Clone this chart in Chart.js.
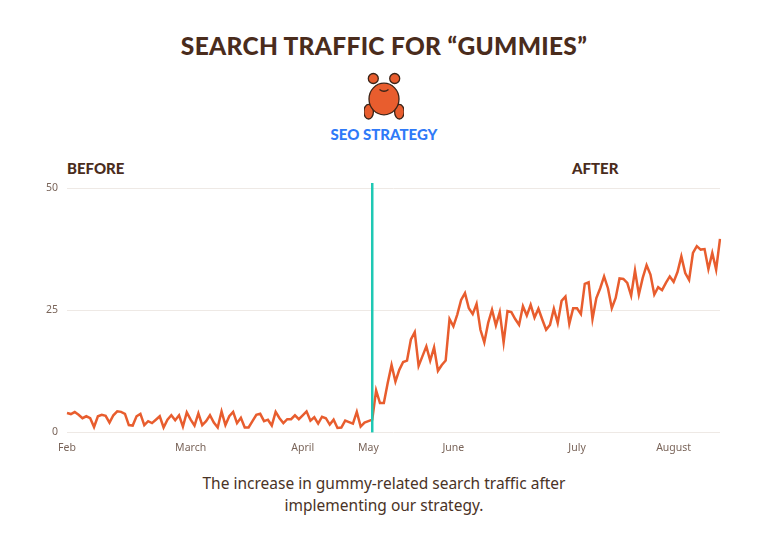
<!DOCTYPE html>
<html>
<head>
<meta charset="utf-8">
<script src="https://cdn.jsdelivr.net/npm/chart.js@4"></script>
<style>
  body { margin: 0; background: #fff; }
  #page { position: relative; width: 768px; height: 542px; overflow: hidden; font-family: "Lato", sans-serif; }
  .title { position: absolute; left: 0; width: 768px; top: 31px; text-align: center; font-size: 24.5px; font-weight: 900; color: #4a2c1c; letter-spacing: 0.3px; }
  .sub { position: absolute; left: 0; width: 768px; top: 125px; text-align: center; font-size: 15px; font-weight: 900; color: #2f7af8; }
  .tag { position: absolute; top: 159px; font-size: 15px; font-weight: 900; color: #4a2c1c; }
  #bear { position: absolute; left: 364px; top: 68px; }
  .caption { position: absolute; left: 0; width: 768px; top: 472px; text-align: center; font-family: "Noto Sans", sans-serif; font-size: 15.5px; line-height: 22px; color: #4a3326; }
  #wrap { position: absolute; left: 0; top: 150px; width: 768px; height: 320px; }
</style>
</head>
<body>
<div id="page">
  <div class="title">SEARCH TRAFFIC FOR “GUMMIES”</div>
  <svg id="bear" width="40" height="54" viewBox="0 0 40 54">
    <g fill="#e85d2e" stroke="#3b2418" stroke-width="1.3">
      <circle cx="9.3" cy="10.5" r="5"/>
      <circle cx="30.7" cy="10.5" r="5"/>
      <ellipse cx="4.6" cy="43.7" rx="4.8" ry="7.3"/>
      <ellipse cx="35.4" cy="43.7" rx="4.8" ry="7.3"/>
      <ellipse cx="20" cy="31" rx="15" ry="15.8"/>
    </g>
    <path d="M15.5 21.5 Q20 25 24.5 21.5" fill="none" stroke="#3b2418" stroke-width="1.3"/>
  </svg>
  <div class="sub">SEO STRATEGY</div>
  <div class="tag" style="left:67px">BEFORE</div>
  <div class="tag" style="left:572px">AFTER</div>
  <div id="wrap"><canvas id="chart-traffic"></canvas></div>
  <div class="caption">The increase in gummy-related search traffic after<br>implementing our strategy.</div>
</div>
<script>
// daily search traffic
var beforeValues = [
  3.96, 3.75, 4.16, 3.6, 2.9, 3.3, 2.9, 1.1, 3.3, 3.6,
  3.4, 2.0, 3.5, 4.3, 4.2, 3.8, 1.5, 1.4, 3.3, 3.8,
  1.5, 2.3, 1.9, 2.6, 3.3, 1.0, 2.6, 3.5, 2.5, 3.5,
  1.2, 4.1, 2.6, 1.4, 3.9, 1.5, 2.3, 3.5, 2.0, 1.0,
  4.3, 1.5, 3.3, 4.2, 1.9, 3.0, 1.0, 1.0, 2.3, 3.6,
  3.8, 2.3, 2.6, 1.4, 4.2, 2.9, 1.9, 2.7, 2.7, 3.5,
  2.7, 3.5, 4.3, 2.4, 3.1, 1.8, 3.2, 2.9, 1.6, 2.6,
  0.9, 1.0, 2.4, 2.1, 1.8, 4.2, 1.2, 2.0, 2.3, 2.6
];
var afterValues = [
  8.6, 6.0, 6.0, 10.1, 13.8, 10.4, 12.8, 14.4, 14.7, 19.0,
  20.5, 13.6, 15.6, 17.6, 14.7, 17.4, 12.6, 13.8, 14.7, 23.2,
  21.7, 24.1, 27.1, 28.5, 25.4, 24.2, 26.3, 21.0, 18.4, 22.4,
  25.1, 21.9, 24.6, 18.4, 24.8, 24.6, 23.2, 22.0, 25.8, 23.9,
  26.1, 23.5, 25.3, 23.1, 21.0, 22.0, 25.3, 22.4, 26.9, 27.8,
  22.2, 25.4, 25.4, 24.2, 30.4, 30.7, 23.2, 27.5, 29.5, 31.9,
  29.5, 25.4, 27.5, 31.5, 31.4, 30.6, 28.0, 33.1, 28.2, 31.6,
  34.2, 32.3, 28.2, 29.7, 29.1, 30.6, 31.9, 30.8, 32.8, 36.0,
  32.6, 31.2, 36.7, 38.1, 37.4, 37.5, 33.4, 36.7, 33.3, 39.6
];
var monthNames = ['Feb', 'March', 'April', 'May', 'June', 'July', 'August'];
var monthIndex = [0, 32, 61, 78, 100, 132, 157];
var yTicks = [0, 25, 50];

var traffic = beforeValues.concat(afterValues);
var strategyIndex = beforeValues.length - 1;
var labels = traffic.map(function (v, i) {
    var k = monthIndex.indexOf(i);
    return k >= 0 ? monthNames[k] : '';
});

// teal line where the strategy started
var strategyLine = {
    id: 'strategyLine',
    afterDatasetsDraw: function (chart) {
        var ctx = chart.ctx;
        var x = chart.scales.x.getPixelForValue(strategyIndex);
        var area = chart.chartArea;
        ctx.save();
        ctx.strokeStyle = '#1fc8b4';
        ctx.lineWidth = 2.5;
        ctx.beginPath();
        ctx.moveTo(x, area.top - 5);
        ctx.lineTo(x, area.bottom);
        ctx.stroke();
        ctx.restore();
    }
};

const ctx = document.getElementById('chart-traffic').getContext('2d');
new Chart(ctx, {
    type: 'line',
    data: {
        labels: labels,
        datasets: [{
            label: 'Search traffic',
            data: traffic,
            borderColor: '#e85d2e',
            borderWidth: 2.5,
            pointRadius: 0,
            tension: 0,
            fill: false
        }]
    },
    options: {
        responsive: true,
        maintainAspectRatio: false,
        animation: false,
        layout: { padding: { top: 38, right: 48, bottom: 7, left: 0 } },
        plugins: { legend: { display: false }, tooltip: { enabled: false } },
        scales: {
            x: {
                grid: { display: false, drawTicks: false },
                border: { display: false },
                ticks: {
                    autoSkip: false,
                    maxRotation: 0,
                    padding: 9,
                    color: '#7a655a',
                    font: { family: 'Noto Sans', size: 10.5 },
                    callback: function (v, i) { return labels[i]; }
                }
            },
            y: {
                min: 0,
                max: 50,
                afterBuildTicks: function (scale) {
                    scale.ticks = yTicks.map(function (v) { return { value: v }; });
                },
                afterFit: function (scale) { scale.width = 67; },
                grid: { color: '#eee9e5', lineWidth: 1, drawTicks: false },
                border: { display: false },
                ticks: {
                    padding: 9,
                    color: '#7a655a',
                    font: { family: 'Noto Sans', size: 10.5 }
                }
            }
        }
    },
    plugins: [strategyLine]
});
</script>
</body>
</html>
